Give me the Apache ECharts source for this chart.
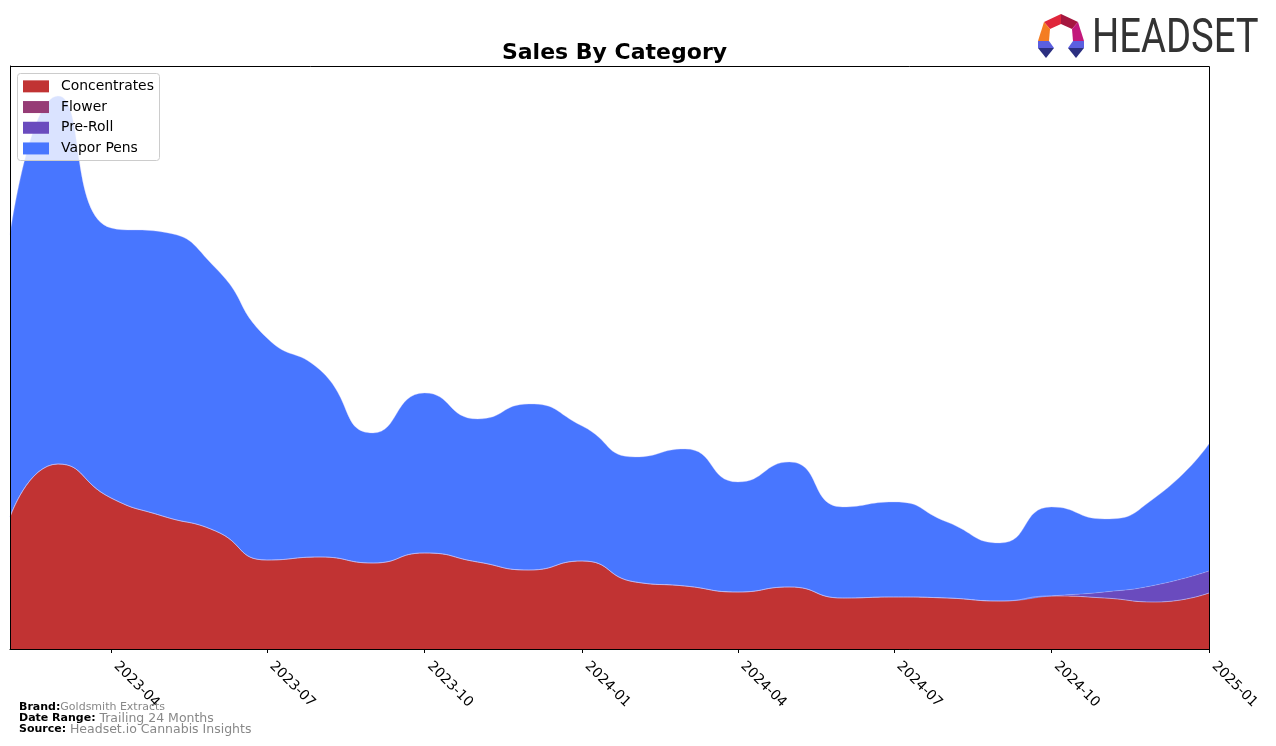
<!DOCTYPE html>
<html>
<head>
<meta charset="utf-8">
<script src="https://cdn.jsdelivr.net/npm/echarts@6/dist/echarts.min.js"></script>
<style>
html,body{margin:0;padding:0;background:#fff;}
#chart{width:1276px;height:746px;}
</style>
</head>
<body>
<div id="chart"></div>
<script>
// ---- data ----
const months = ['2023-02','2023-03','2023-04','2023-05','2023-06','2023-07','2023-08','2023-09','2023-10','2023-11','2023-12','2024-01','2024-02','2024-03','2024-04','2024-05','2024-06','2024-07','2024-08','2024-09','2024-10','2024-11','2024-12','2025-01'];
const concentrates = [132,185,151,133,118,89,92,86,96,87,79,88,67,63,57,62,51,52,51,48,53,51,47,56];
const flower       = [0,0,0,0,0,0,0,0,0,0,0,0,0,0,0,0,0,0,0,0,0,0,0,0];
const preRoll      = [0,0,0,0,0,0,0,0,0,0,0,0,0,0,0,0,0,0,0,0,0,6,17,22];
const vaporPens    = [282,368,270,284,263,222,187,130,160,143,166,135,125,137,110,125,91,95,76,58,89,73,88,127];
const tickLabels = ['2023-04','2023-07','2023-10','2024-01','2024-04','2024-07','2024-10','2025-01'];
const seriesNames = ['Concentrates','Flower','Pre-Roll','Vapor Pens'];
const seriesColors = ['#c13333','#963c76','#6a4bbe','#4876ff'];

function ts(s){ const p = s.split('-'); return Date.UTC(+p[0], +p[1]-1, 1); }
function fmt(v){ const d = new Date(v); return d.getUTCFullYear() + '-' + String(d.getUTCMonth()+1).padStart(2,'0'); }
const monthTs = months.map(ts);
const tickTs = tickLabels.map(ts);
const allValues = [concentrates, flower, preRoll, vaporPens];

const chart = echarts.init(document.getElementById('chart'), null, {renderer:'canvas'});
const FONT = 'DejaVu Sans';

const series = seriesNames.map((name, i) => ({
  name: name,
  type: 'line',
  stack: 'total',
  smooth: 0.55,
  symbol: 'none',
  xAxisIndex: 0,
  data: monthTs.map((t, k) => [t, allValues[i][k]]),
  lineStyle: {width: 0.6, color: 'rgba(200,200,255,0.55)'},
  areaStyle: {color: seriesColors[i], opacity: 1},
  itemStyle: {color: seriesColors[i]},
  emphasis: {disabled: true},
  z: 2
}));

const option = {
  animation: false,
  backgroundColor: '#fff',
  title: {
    text: 'Sales By Category',
    left: 609.5, top: 37, textAlign: 'center',
    textStyle: {fontFamily: FONT, fontWeight: 'bold', fontSize: 22, color: '#000'}
  },
  legend: {
    orient: 'vertical',
    left: 17, top: 73,
    icon: 'rect',
    itemWidth: 26, itemHeight: 12, itemGap: 6,
    padding: [6, 7, 6, 6],
    backgroundColor: 'transparent',
    borderWidth: 0,
    textStyle: {fontFamily: FONT, fontSize: 13.9, color: '#000', lineHeight: 14.7, padding: [0,0,0,7]},
    data: seriesNames,
    z: 20
  },
  grid: {left: 10, right: 67, top: 66, bottom: 97, containLabel: false},
  xAxis: [{
    type: 'time',
    min: ts('2023-02'), max: ts('2025-01'),
    axisLine: {show: false}, axisTick: {show: false}, axisLabel: {show: false}, splitLine: {show: false}
  }, {
    type: 'value',
    position: 'bottom',
    min: ts('2023-02'), max: ts('2025-01'),
    axisLine: {show: true, lineStyle: {color: '#000', width: 1}},
    axisTick: {show: true, customValues: tickTs, length: 4, lineStyle: {color: '#000'}},
    axisLabel: {customValues: tickTs, formatter: fmt, rotate: -45, fontFamily: FONT, fontSize: 13.9, color: '#000', margin: 10, padding: [0,0,0,7], hideOverlap: false},
    splitLine: {show: false}
  }],
  yAxis: {
    type: 'value', min: 0, max: 583,
    axisLine: {show: true, lineStyle: {color: '#000'}},
    axisTick: {show: false}, axisLabel: {show: false}, splitLine: {show: false}
  },
  series: series,
  graphic: [
    {type: 'rect', z: 50, silent: true, shape: {x: 10.5, y: 66.5, width: 1199, height: 583}, style: {fill: 'none', stroke: '#000', lineWidth: 1}},
    // legend frame (semi-transparent, like the reference)
    {type: 'rect', z: 15, silent: true, shape: {x: 17.5, y: 73.5, width: 142, height: 87, r: 3}, style: {fill: 'rgba(255,255,255,0.8)', stroke: '#cccccc', lineWidth: 1}},
    // footer
    {type: 'text', left: 19, top: 702, z: 50, style: {text: '{b|Brand:}{g|Goldsmith Extracts}', rich: {b: {fontFamily: FONT, fontWeight: 'bold', fontSize: 11, fill: '#000'}, g: {fontFamily: FONT, fontSize: 11, fill: '#888'}}}},
    {type: 'text', left: 19, top: 712, z: 50, style: {text: '{b|Date Range: }{g|Trailing 24 Months}', rich: {b: {fontFamily: FONT, fontWeight: 'bold', fontSize: 11, fill: '#000'}, g: {fontFamily: FONT, fontSize: 12.5, fill: '#888'}}}},
    {type: 'text', left: 19, top: 723, z: 50, style: {text: '{b|Source: }{g|Headset.io Cannabis Insights}', rich: {b: {fontFamily: FONT, fontWeight: 'bold', fontSize: 11, fill: '#000'}, g: {fontFamily: FONT, fontSize: 12.5, fill: '#888'}}}},
    // logo icon
    {type: 'group', z: 50, children: [
      {type: 'polygon', shape: {points: [[1044,22],[1061,14],[1061,24],[1050,29]]}, style: {fill: '#e0263c'}},
      {type: 'polygon', shape: {points: [[1061,14],[1078,22],[1072,29],[1061,24]]}, style: {fill: '#a5173f'}},
      {type: 'polygon', shape: {points: [[1044,22],[1050,29],[1049,41],[1038,41]]}, style: {fill: '#f47d22'}},
      {type: 'polygon', shape: {points: [[1078,22],[1084,41],[1073,41],[1072,29]]}, style: {fill: '#c2187b'}},
      {type: 'polygon', shape: {points: [[1038,41],[1049,41],[1054,48],[1038,48]]}, style: {fill: '#5b5fe0'}},
      {type: 'polygon', shape: {points: [[1038,48],[1054,48],[1046,58]]}, style: {fill: '#2b2f80'}},
      {type: 'polygon', shape: {points: [[1084,41],[1073,41],[1068,48],[1084,48]]}, style: {fill: '#5b5fe0'}},
      {type: 'polygon', shape: {points: [[1084,48],[1068,48],[1076,58]]}, style: {fill: '#2b2f80'}}
    ]},
    {type: 'text', x: 1092, y: 40, scaleX: 0.78, z: 50, style: {text: 'HEADSET', font: '400 49px Roboto', fill: '#333', textVerticalAlign: 'middle', textAlign: 'left'}}
  ]
};
chart.setOption(option);
</script>
</body>
</html>
